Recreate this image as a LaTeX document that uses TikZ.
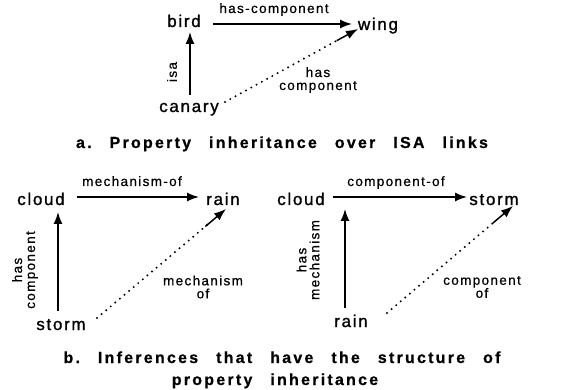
\documentclass[tikz,border=0pt]{standalone}
\usepackage{fontspec}
\setmainfont{Liberation Sans}[LetterSpace=10, FakeBold=1.2]
\newfontfamily\labfont{Liberation Sans}[LetterSpace=10, FakeBold=0.6]
\newfontfamily\capfont{Liberation Sans}[LetterSpace=14, FakeBold=0.6]
\newcommand{\wgap}{\hspace{18pt}}
\usetikzlibrary{arrows.meta,calc}
\begin{document}
\begin{tikzpicture}[x=1pt,y=-1pt,
  concept/.style={font=\fontsize{17}{19}\selectfont, inner sep=0pt, anchor=base},
  lab/.style={font=\labfont\fontsize{13.5}{15}\selectfont, inner sep=0pt},
  caption/.style={font=\capfont\bfseries\fontsize{16}{20}\selectfont, inner sep=0pt, anchor=base},
  link/.style={line width=1.5pt, -{Latex[length=12pt,width=9pt]}},
  dots/.style={line width=2.2pt, line cap=round, dash pattern=on 0pt off 6pt},
  tip/.style={line width=1.5pt, -{Latex[length=12pt,width=9pt]}}
]
\useasboundingbox (0,0) rectangle (565,390);

% ---------- a ----------
\node[concept] (bird) at (184,27) {bird};
\node[concept] (wing) at (378,30) {wing};
\node[concept] (canary) at (189,112) {canary};

\coordinate (bw1) at (213,24);
\coordinate (bw2) at (352,24);
\draw[link] (bw1) -- (bw2);
\node[lab, anchor=base] (l1) at (274,13) {has-component};

\coordinate (cb1) at (190,95);
\coordinate (cb2) at (190,32);
\draw[link] (cb1) -- (cb2);
\node[lab, rotate=90] (l2) at (172,72) {isa};

\coordinate (cw1) at (225,102);
\coordinate (cw2) at (358,29);
\draw[dots] (cw1) -- ($(cw1)!0.86!(cw2)$);
\draw[tip] ($(cw1)!0.84!(cw2)$) -- (cw2);
\node[lab, align=center] (l3) at (318,80) {has\\[-2pt]component};

\node[caption] (capa) at (282,148) {a.\wgap Property\wgap inheritance\wgap over\wgap ISA\wgap links};

% ---------- b left ----------
\node[concept] (cloud1) at (41,205) {cloud};
\node[concept] (rain1) at (223,205) {rain};
\node[concept] (storm1) at (61,330) {storm};

\coordinate (cr1) at (77,197);
\coordinate (cr2) at (199,197);
\draw[link] (cr1) -- (cr2);
\node[lab, anchor=base] (l4) at (132,186) {mechanism-of};

\coordinate (sc1) at (58,311);
\coordinate (sc2) at (58,212);
\draw[link] (sc1) -- (sc2);
\node[lab, rotate=90, align=center] (l5) at (25,270) {has\\[-2pt]component};

\coordinate (sr1) at (97,318);
\coordinate (sr2) at (226,209);
\draw[dots] (sr1) -- ($(sr1)!0.86!(sr2)$);
\draw[tip] ($(sr1)!0.84!(sr2)$) -- (sr2);
\node[lab, align=center] (l6) at (203,287) {mechanism\\[-2pt]of};

% ---------- b right ----------
\node[concept] (cloud2) at (301,205) {cloud};
\node[concept] (storm2) at (494,205) {storm};
\node[concept] (rain2) at (351,327) {rain};

\coordinate (cs1) at (333,197);
\coordinate (cs2) at (467,197);
\draw[link] (cs1) -- (cs2);
\node[lab, anchor=base] (l7) at (396,186) {component-of};

\coordinate (rc1) at (345,308);
\coordinate (rc2) at (345,209);
\draw[link] (rc1) -- (rc2);
\node[lab, rotate=90, align=center] (l8) at (308,260) {has\\[-2pt]mechanism};

\coordinate (rs1) at (387,313);
\coordinate (rs2) at (513,206);
\draw[dots] (rs1) -- ($(rs1)!0.86!(rs2)$);
\draw[tip] ($(rs1)!0.84!(rs2)$) -- (rs2);
\node[lab, align=center] (l9) at (482,287) {component\\[-2pt]of};

\node[caption] (capb1) at (282,363) {b.\wgap Inferences\wgap that\wgap have\wgap the\wgap structure\wgap of};
\node[caption] (capb2) at (275,385) {property\wgap inheritance};
\end{tikzpicture}
\end{document}
